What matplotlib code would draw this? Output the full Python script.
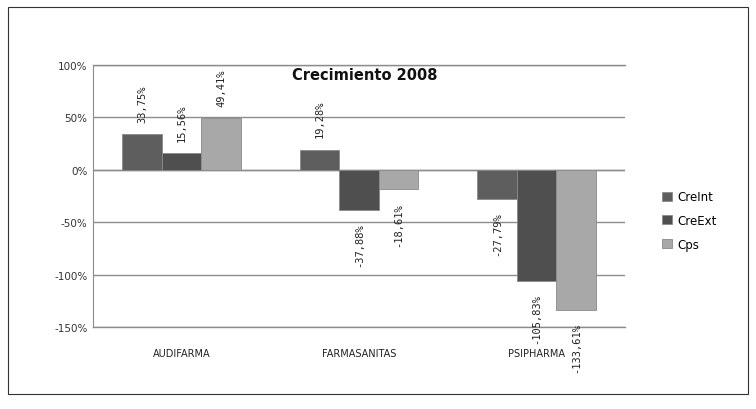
import matplotlib.pyplot as plt
from matplotlib.patches import Rectangle
import numpy as np

empresas = ['AUDIFARMA', 'FARMASANITAS', 'PSIPHARMA']
series = ['CreInt', 'CreExt', 'Cps']
cre_int = [33.75, 19.28, -27.79]
cre_ext = [15.56, -37.88, -105.83]
cps = [49.41, -18.61, -133.61]
colores = ['#5e5e5e', '#4f4f4f', '#a8a8a8']
yticks = [100, 50, 0, -50, -100, -150]

fig = plt.figure(figsize=(7.56, 4.10), dpi=100)
fig.patch.set_facecolor('white')
ax = fig.add_axes([0.123, 0.2, 0.704, 0.639])

x = np.arange(len(empresas))
ancho = 0.223
for i, (nombre, vals) in enumerate(zip(series, [cre_int, cre_ext, cps])):
    pos = x + (i - 1) * ancho
    ax.bar(pos, vals, ancho, color=colores[i], edgecolor='#8a8a8a', linewidth=0.6,
           label=nombre, zorder=3)
    for px, v in zip(pos, vals):
        txt = ('%.2f%%' % v).replace('.', ',')
        ax.annotate(txt, (px, v), xytext=(0, 9 if v > 0 else -9), textcoords='offset points',
                    rotation=90, ha='center', va='bottom' if v > 0 else 'top',
                    fontsize=7.5, family='DejaVu Sans Mono', color='#222222', zorder=4)

ax.set_xlim(-0.5, 2.5)
ax.set_ylim(-150, 100)
ax.set_yticks(yticks)
ax.set_yticklabels(['%d%%' % t for t in yticks], fontsize=7.5, color='#333333')
ax.set_xticks(x)
ax.set_xticklabels(empresas, fontsize=7, color='#222222')
ax.tick_params(axis='x', length=0, pad=15)
ax.tick_params(axis='y', length=0, pad=4)
ax.yaxis.grid(True, color='#8c8c8c', linewidth=1.0, zorder=0)
for s in ['top', 'right', 'bottom']:
    ax.spines[s].set_visible(False)
ax.spines['left'].set_color('#8c8c8c')
ax.axhline(0, color='#8c8c8c', linewidth=1.0, zorder=2)
ax.axhline(-150, color='#8c8c8c', linewidth=1.0, zorder=2, clip_on=False)
ax.axhline(100, color='#8c8c8c', linewidth=1.0, zorder=2, clip_on=False)

fig.text(0.483, 0.815, 'Crecimiento 2008', ha='center', va='center',
         fontsize=10.5, fontweight='bold', color='#111111')

fig.legend(loc='center left', bbox_to_anchor=(0.862, 0.46), frameon=False,
           fontsize=8.5, handlelength=0.8, handleheight=0.8, handletextpad=0.5,
           labelspacing=0.9)

fig.patches.append(Rectangle((0.011, 0.037), 0.978, 0.944, transform=fig.transFigure,
                             fill=False, edgecolor='#333333', linewidth=0.8))

plt.savefig('out.png', dpi=100)
